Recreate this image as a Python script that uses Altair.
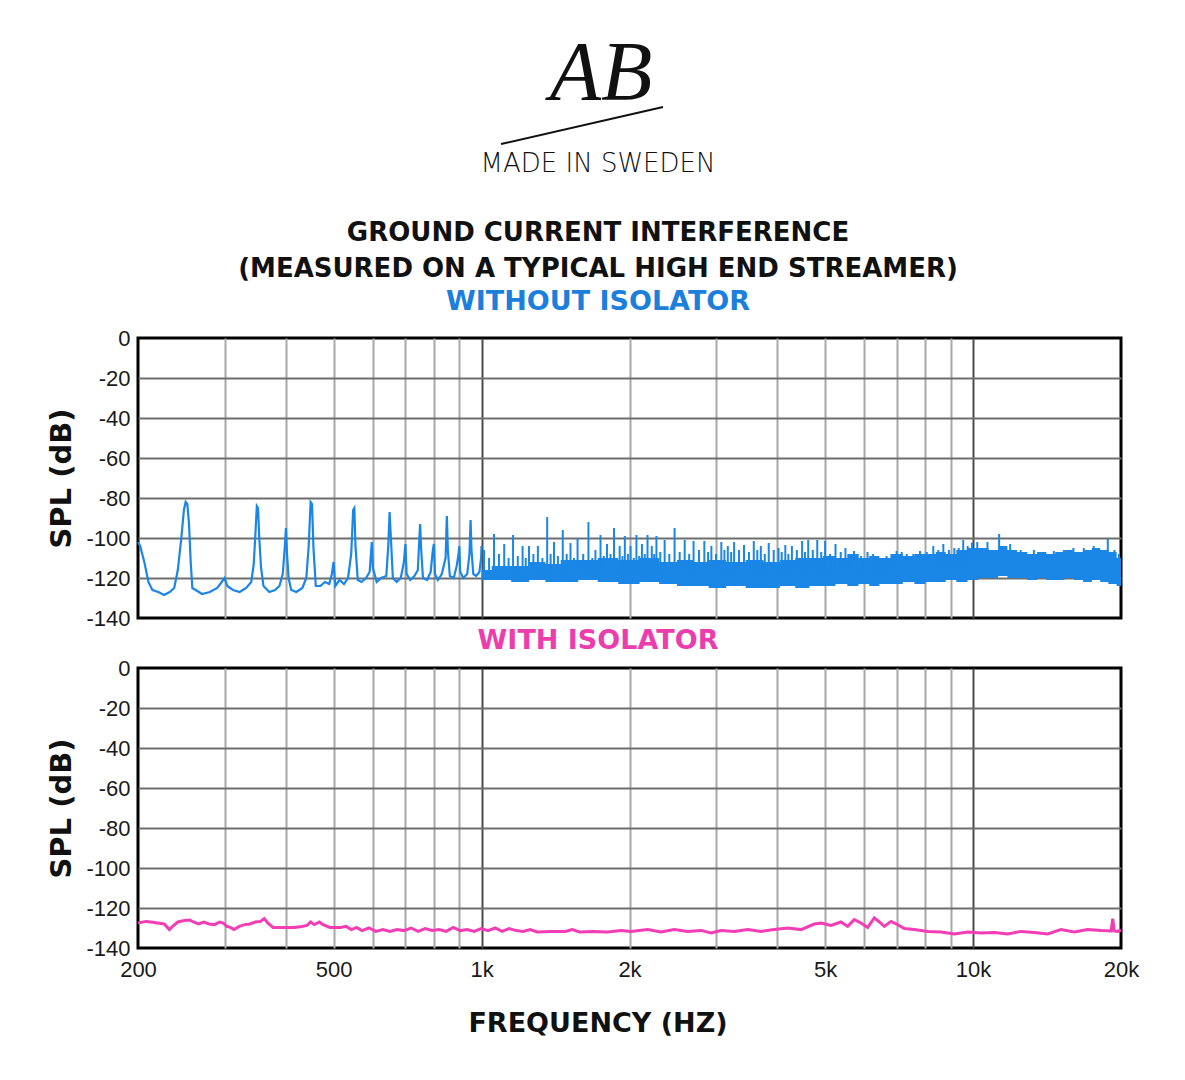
import altair as alt
import pandas as pd

# ---------------- data ----------------
# Without isolator: low-frequency detail (200 Hz - 1 kHz)
lf_freq = [200, 202, 206, 210, 214, 220, 226, 232, 237, 241, 245, 248, 250, 252, 254, 256, 258, 262, 270, 280,
           290, 296, 300, 304, 312, 322, 332, 340, 344, 347, 349, 351, 353, 356, 360, 370, 380, 388, 394, 398,
           400, 402, 405, 410, 420, 432, 440, 445, 449, 452, 455, 460, 470, 480, 490, 496, 500, 504, 514, 525,
           535, 543, 548, 551, 554, 560, 570, 582, 592, 598, 601, 612, 625, 640, 646, 650, 654, 660, 672, 685,
           695, 700, 704, 716, 730, 742, 747, 750, 753, 760, 775, 788, 796, 800, 804, 815, 830, 845, 850, 854,
           862, 878, 890, 898, 901, 905, 918, 935, 945, 950, 954, 962, 975, 990, 998, 1000]
lf_db = [-102, -104, -112, -122, -126, -127, -128.5, -127, -125, -116, -100, -86, -82, -83, -93, -112, -125, -126, -128, -127,
         -125, -122, -120, -124, -126, -127, -125, -122, -113, -96, -84, -85, -100, -115, -124, -127, -126, -124, -118, -104,
         -95, -108, -120, -126, -127, -125, -120, -104, -82, -83, -105, -124, -124, -122, -123, -118, -112, -124, -121, -123,
         -120, -108, -86, -85, -104, -121, -122, -120, -117, -102, -115, -122, -120, -119, -104, -87, -100, -120, -122, -120,
         -112, -103, -118, -121, -119, -116, -101, -93, -104, -120, -121, -117, -106, -103, -118, -121, -118, -110, -89, -106,
         -119, -120, -114, -108, -104, -117, -120, -118, -108, -91, -106, -118, -119, -117, -110, -104]

# Without isolator: dense noise floor band above 1 kHz (bottom / top of the solid fill)
band_freq = [1000, 1100, 1200, 1300, 1400, 1500, 1650, 1800, 2000, 2200, 2400, 2600, 2800, 3000, 3300, 3600, 3900,
             4200, 4500, 4800, 5100, 5400, 5700, 6000, 6300, 6600, 7000, 7400, 7800, 8200, 8600, 9000, 9500, 10000,
             10500, 11000, 11500, 12000, 12600, 13200, 13800, 14400, 15000, 15700, 16400, 17100, 17800, 18500,
             19200, 20000]
band_lo = [-121, -121, -122, -121, -122, -122, -121, -122, -123, -122, -123, -124, -124, -125, -124, -125, -125,
           -124, -125, -124, -124, -123, -124, -123, -124, -123, -123, -122, -123, -122, -122, -121, -122, -121,
           -120, -120, -119, -120, -120, -121, -120, -121, -121, -120, -121, -122, -121, -122, -123, -124]
band_hi = [-116, -114, -114, -112, -113, -111, -111, -110, -111, -110, -112, -111, -112, -111, -112, -111, -112,
           -111, -110, -110, -109, -110, -108, -110, -109, -110, -108, -109, -108, -108, -107, -108, -106, -105,
           -105, -106, -104, -106, -107, -108, -107, -108, -107, -106, -107, -106, -105, -106, -107, -110]

# Without isolator: main harmonic spikes above 1 kHz
spike_freq = [1012, 1060, 1112, 1159, 1212, 1249, 1302, 1360, 1404, 1463,
              1517, 1568, 1650, 1705, 1746, 1800, 1860, 1910, 1957, 2010,
              2066, 2120, 2176, 2220, 2269, 2358, 2470, 2590, 2700, 2840,
              2935, 3075, 3170, 3265, 3420, 3580, 3700, 3840, 4020, 4150,
              4280, 4490, 4620, 4820, 5000, 5250, 5500, 5726, 5920, 6100,
              6420, 6670, 6990, 7330, 7800, 8300, 8700, 9160, 9550, 9950,
              10200, 10700, 11300, 11900, 12500, 13300, 13900, 14600, 15300, 16000,
              16800, 17600, 18800, 19400, 19800]
spike_db = [-106, -98, -103, -98.5, -104, -104, -104, -89.5, -102, -96,
            -102.5, -100, -92, -106, -98.5, -103, -95, -104, -99, -104,
            -98.5, -103, -98.5, -104, -99, -101, -95, -101, -101.5, -101.5,
            -104, -102, -104, -102, -103.5, -101.5, -104, -102.5, -105, -103.5,
            -104, -101.5, -101, -101, -101.5, -103, -105, -106.5, -109, -107,
            -112, -109, -106.5, -108, -106.5, -104, -103, -105, -101, -102.3,
            -102, -102, -98, -103, -106, -106, -108, -106.5, -106, -105,
            -105, -104, -100.5, -106, -108]

# Without isolator: smaller spikes in between
minor_spike_freq = [1036, 1085, 1135, 1185, 1230, 1275, 1330, 1382, 1430, 1490, 1542, 1610, 1680, 1773, 1830,
                    1885, 1935, 1985, 2040, 2093, 2148, 2200, 2245, 2310, 2410, 2530, 2645, 2770, 2890, 3000,
                    3120, 3220, 3340, 3500, 3640, 3770, 3930, 4080, 4210, 4380, 4550, 4720, 4910, 5120, 5380,
                    5610, 5820, 6010, 6260, 6540, 6830, 7160, 7560, 8050, 8500, 8930, 9350, 9750]
minor_spike_db = [-110, -108, -110, -109, -110, -108, -110, -108, -109, -108, -110, -108, -110, -109, -108,
                  -110, -109, -108, -110, -109, -108, -110, -108, -107, -108, -107, -108, -106, -107, -108,
                  -106, -107, -106, -107, -106, -108, -106, -107, -108, -106, -107, -106, -107, -108, -107,
                  -109, -108, -110, -108, -110, -108, -107, -108, -107, -106, -106, -105, -104]

# With isolator
pink_freq = [200, 207.7, 212.6, 219.1, 226.2, 231.6, 235.2, 241, 248.9, 255, 259.2, 265.6, 272.3, 279.1, 286.1,
             293.3, 298.2, 303.2, 308.3, 313.5, 321.5, 329.6, 337.9, 346.5, 355.3, 361.2, 367.3, 376.5, 396, 416.5,
             430.8, 441.6, 449, 456.5, 468, 475.8, 491.8, 516.9, 530, 543.4, 557.1, 571.1, 590.1, 609.8, 630, 651,
             673, 695, 719, 743, 768, 793, 820, 847, 876, 905, 935, 966, 998, 1031, 1066, 1101, 1138, 1176, 1215,
             1256, 1298, 1386, 1480, 1530, 1581, 1688, 1803, 1925, 2014, 2178, 2318, 2468, 2628, 2796, 2930, 3071,
             3268, 3480, 3704, 3942, 4196, 4466, 4753, 4905, 5140, 5387, 5558, 5734, 5916, 6104, 6296, 6448, 6600,
             6808, 7025, 7248, 7594, 8088, 8606, 9160, 9752, 10380, 11048, 11766, 12516, 13324, 14188, 15098,
             16070, 17106, 18212, 19100, 19240, 19380, 19690, 20000]
pink_db = [-127.5, -126.7, -127, -127.5, -128, -130.8, -129.2, -127, -126.3, -126, -127, -128, -127, -128, -128.3,
           -127, -127.5, -129.2, -129.7, -130.8, -129.2, -128.3, -128, -127, -126.7, -125.3, -127.5, -129.7, -129.7, -129.7,
           -129.2, -128.7, -127, -128.3, -127, -128.3, -129.7, -129.7, -129.2, -130.8, -129.7, -131.3, -130, -131.7, -130.8, -131.7,
           -130.8, -131.3, -130, -131.7, -130.3, -131.2, -130.8, -131.7, -129.7, -131.3, -130.8, -131.7, -130.3, -131.3, -130, -131.7, -130.3, -131.3, -131.7,
           -130.8, -132, -131.7, -131.7, -130.8, -132, -131.7, -132, -131.3, -131.7, -130.8, -132, -130.8, -131.7, -131.2, -132.5, -131.3,
           -131.7, -130.8, -131.7, -130.8, -130, -130.8, -128, -127.5, -128.7, -127, -129.2, -125.8, -127.5, -129.7, -125, -127, -129.2,
           -126.7, -128.3, -130.3, -130.8, -131.7, -132, -133, -132, -132.5, -132.2, -133, -131.7, -132.3, -133, -130.8,
           -132, -130.8, -131.3, -131.5, -125.3, -131.5, -131.7, -131]

# axis ticks / labels
x_grid = [200, 300, 400, 500, 600, 700, 800, 900, 1000, 2000, 3000, 4000, 5000, 6000, 7000, 8000, 9000, 10000, 20000]
x_label_vals = [200, 500, 1000, 2000, 5000, 10000, 20000]
x_label_text = ["200", "500", "1k", "2k", "5k", "10k", "20k"]
y_ticks = [0, -20, -40, -60, -80, -100, -120, -140]

# ---------------- styling ----------------
BLUE = "#1A86E6"
BLUE_T = "#1C7FDB"
PINK = "#F23DB5"
PINK_T = "#EC3DAF"
W, H = 983, 280
CX = 460

lf_df = pd.DataFrame({"f": lf_freq, "db": lf_db})
band_df = pd.DataFrame({"f": band_freq, "lo": band_lo, "hi": band_hi})
spike_df = pd.DataFrame({"f": spike_freq + minor_spike_freq, "db": spike_db + minor_spike_db})
pink_df = pd.DataFrame({"f": pink_freq, "db": pink_db})

x_scale = alt.Scale(type="log", domain=[200, 20000], nice=False)
y_scale = alt.Scale(domain=[-140, 0], nice=False)

label_expr = " : ".join(
    f"datum.value == {v} ? '{t}'" for v, t in zip(x_label_vals, x_label_text)
) + " : ''"

x_grid_color = {"condition": {"test": "datum.value == 1000 || datum.value == 10000", "value": "#4a4a4a"},
                "value": "#a8a8a8"}
x_grid_opacity = {"condition": {"test": "datum.value == 200 || datum.value == 20000", "value": 0}, "value": 1}
y_grid_opacity = {"condition": {"test": "datum.value == 0 || datum.value == -140", "value": 0}, "value": 1}


def y_axis():
    return alt.Axis(values=y_ticks, grid=True, gridColor="#6e6e6e", gridWidth=2, gridOpacity=y_grid_opacity,
                    ticks=False, domain=False, labelExpr="datum.value + ''", labelFont="Liberation Sans",
                    labelFontSize=22, labelColor="#1a1a1a", labelPadding=8, labelOverlap=False,
                    title="SPL (dB)", titleFont="DejaVu Sans", titleFontSize=29, titleFontWeight="bold",
                    titleColor="#111111", titleX=-77, titleY=140, titleAngle=270, titleBaseline="middle",
                    titleAlign="center")


def x_axis(with_labels):
    kw = dict(values=x_grid, grid=True, gridColor=x_grid_color, gridWidth=2, gridOpacity=x_grid_opacity,
              ticks=False, domain=False, title=None)
    if with_labels:
        kw.update(labelExpr=label_expr, labelFont="Liberation Sans", labelFontSize=22, labelColor="#1a1a1a",
                  labelPadding=11, labelFlush=False, labelOverlap=False)
    else:
        kw.update(labels=False)
    return alt.Axis(**kw)


def txt(s, x, y, size, color="#111111", weight="bold", font="DejaVu Sans", style="normal"):
    return alt.Chart(alt.Data(values=[{"t": s}])).mark_text(
        fontSize=size, font=font, fontWeight=weight, fontStyle=style, color=color,
        align="center", baseline="middle").encode(x=alt.value(x), y=alt.value(y), text="t:N")


X_TOP = alt.X("f:Q", scale=x_scale, axis=x_axis(False))
band = alt.Chart(band_df).mark_area(color=BLUE, interpolate="step", opacity=1).encode(
    x=X_TOP, y=alt.Y("lo:Q", scale=y_scale, axis=y_axis()), y2="hi:Q")
spikes = alt.Chart(spike_df).mark_rule(color=BLUE, strokeWidth=2).encode(
    x=X_TOP, y=alt.Y("db:Q", scale=y_scale, axis=y_axis()), y2=alt.datum(-118))
lf_line = alt.Chart(lf_df).mark_line(color=BLUE, strokeWidth=2.2).encode(
    x=X_TOP, y=alt.Y("db:Q", scale=y_scale, axis=y_axis()))

logo = txt("AB", CX + 3, -263, 84, weight="normal", font="Liberation Serif", style="italic")
swoosh = alt.Chart(alt.Data(values=[{"t": 0}])).mark_rule(color="#111111", strokeWidth=2).encode(
    x=alt.value(363), x2=alt.value(525), y=alt.value(-194), y2=alt.value(-231))
made = txt("MADE IN SWEDEN", CX, -174, 26, weight=200, font="DejaVu Sans")
t1 = txt("GROUND CURRENT INTERFERENCE", CX, -105, 26)
t2 = txt("(MEASURED ON A TYPICAL HIGH END STREAMER)", CX, -69, 26)
t3 = txt("WITHOUT ISOLATOR", CX, -36, 27, color=BLUE_T)
t4 = txt("WITH ISOLATOR", CX, H + 23, 27, color=PINK_T)

top = alt.layer(band, spikes, lf_line, logo, swoosh, made, t1, t2, t3, t4).properties(width=W, height=H)

pink_line = alt.Chart(pink_df).mark_line(color=PINK, strokeWidth=3).encode(
    x=alt.X("f:Q", scale=x_scale, axis=x_axis(True)),
    y=alt.Y("db:Q", scale=y_scale, axis=y_axis()))
t5 = txt("FREQUENCY (HZ)", CX, H + 76, 27)

bottom = alt.layer(pink_line, t5).properties(width=W, height=H)

chart = alt.vconcat(top, bottom, spacing=50, bounds="flush").configure_view(
    stroke="black", strokeWidth=3
).properties(
    padding={"left": 37, "top": 23, "right": 10, "bottom": 10}, background="white"
)

chart.save("out.html", embed_options={"renderer": "svg", "actions": False})
